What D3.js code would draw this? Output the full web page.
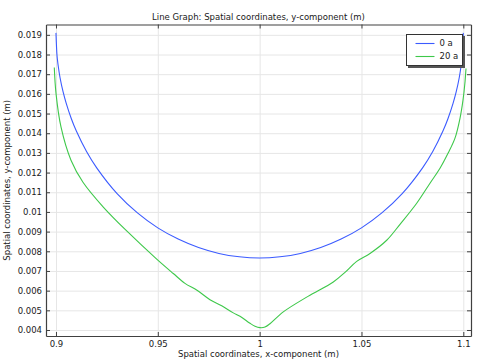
<!DOCTYPE html>
<html><head><meta charset="utf-8">
<script src="https://cdn.jsdelivr.net/npm/d3@7"></script>
<style>
html,body{margin:0;padding:0;background:#fff;}
svg{display:block;font-family:"DejaVu Sans",sans-serif;}
</style></head>
<body>
<svg id="chart" width="480" height="364"></svg>
<script>
const xTicks = [0.9, 0.95, 1, 1.05, 1.1];
const xTickLabels = ["0.9", "0.95", "1", "1.05", "1.1"];
const yTicks = [0.004,0.005,0.006,0.007,0.008,0.009,0.01,0.011,0.012,0.013,0.014,0.015,0.016,0.017,0.018,0.019];
const yTickLabels = ["0.004","0.005","0.006","0.007","0.008","0.009","0.01","0.011","0.012","0.013","0.014","0.015","0.016","0.017","0.018","0.019"];
const seriesNames = ["0 a", "20 a"];

// 0 a (blue)
const x0a = [0.9, 0.9005, 0.901, 0.902, 0.9035, 0.905, 0.9075, 0.91, 0.915, 0.92, 0.93, 0.94, 0.95, 0.96, 0.97, 0.98, 0.99, 1.0,
             1.01, 1.02, 1.03, 1.04, 1.05, 1.06, 1.07, 1.08, 1.085, 1.09, 1.0925, 1.095, 1.0965, 1.098, 1.099, 1.0995, 1.1];
const y0a = [0.0191, 0.01796, 0.01749, 0.01682, 0.0161, 0.01553, 0.01475, 0.01411, 0.01307, 0.01224, 0.01093, 0.00995, 0.00919, 0.00862, 0.00819, 0.00789, 0.00772, 0.00766,
             0.00772, 0.00789, 0.00819, 0.00862, 0.00919, 0.00995, 0.01093, 0.01224, 0.01307, 0.01411, 0.01475, 0.01553, 0.0161, 0.01682, 0.01749, 0.01796, 0.0191];

// 20 a (green)
const x20a = [0.89917, 0.9, 0.90246, 0.90737, 0.91326, 0.92323, 0.93486, 0.9496, 0.9576, 0.96334, 0.96924,
              0.97562, 0.98137, 0.98706, 0.99035, 0.99526, 0.99772, 1.00017, 1.00263, 1.00508, 1.01161, 1.02374, 1.03617, 1.04191, 1.04766, 1.05419,
              1.06239, 1.06892, 1.07712, 1.08365, 1.08856, 1.09249, 1.09592, 1.09838, 1.09985, 1.10084, 1.10133];
const y20a = [0.01734, 0.01604, 0.01432, 0.01263, 0.01151, 0.01025, 0.00902, 0.00759, 0.00687, 0.00637, 0.00602,
              0.00554, 0.00523, 0.00487, 0.0047, 0.00434, 0.00419, 0.00412, 0.00415, 0.00432, 0.00492, 0.00571, 0.00644, 0.00693, 0.00749, 0.00789,
              0.00856, 0.00937, 0.01044, 0.01146, 0.01222, 0.01298, 0.01375, 0.01476, 0.01568, 0.0166, 0.01729];

const colors = ["#3b5bff", "#3ec84a"];

const svg = d3.select("#chart");
const m = {left: 46, right: 9, top: 24.5, bottom: 28};
const W = 480 - m.left - m.right, H = 364 - m.top - m.bottom;
const g = svg.append("g").attr("transform", `translate(${m.left},${m.top})`);

const x = d3.scaleLinear().domain([0.89510, 1.10378]).range([0, W]);
const y = d3.scaleLinear().domain([0.003695, 0.019525]).range([H, 0]);

// grid
g.append("g").attr("class","grid").attr("transform",`translate(0,${H})`)
  .call(d3.axisBottom(x).tickValues(xTicks).tickSize(-H).tickFormat(""))
  .call(s=>s.select(".domain").remove())
  .call(s=>s.selectAll("line").attr("stroke","#e6e6e6"));
g.append("g").attr("class","grid")
  .call(d3.axisLeft(y).tickValues(yTicks).tickSize(-W).tickFormat(""))
  .call(s=>s.select(".domain").remove())
  .call(s=>s.selectAll("line").attr("stroke","#e6e6e6"));

// lines
const data = [d3.zip(x0a, y0a), d3.zip(x20a, y20a)];
const lineBasic = d3.line().x(d=>x(d[0])).y(d=>y(d[1])).curve(d3.curveCatmullRom.alpha(0.5));
data.forEach((d,i)=>{
  g.append("path").datum(d).attr("fill","none").attr("stroke",colors[i]).attr("stroke-width",1.1).attr("d",lineBasic);
});

// axes
const fmtX = d => xTickLabels[xTicks.indexOf(d)];
const fmtY = d => yTickLabels[yTicks.indexOf(d)];
const styleAxis = s => {
  s.select(".domain").attr("stroke","#404040").attr("stroke-width",1.2);
  s.selectAll(".tick line").attr("stroke","#404040");
  s.selectAll("text").attr("fill","#1a1a1a").attr("font-size","8.5px").attr("font-family","DejaVu Sans");
};
g.append("g").attr("transform",`translate(0,${H})`)
  .call(d3.axisBottom(x).tickValues(xTicks).tickFormat(fmtX).tickSizeInner(-4).tickSizeOuter(0).tickPadding(5)).call(styleAxis);
g.append("g")
  .call(d3.axisLeft(y).tickValues(yTicks).tickFormat(fmtY).tickSizeInner(-4).tickSizeOuter(0).tickPadding(4)).call(styleAxis);
g.append("g")
  .call(d3.axisTop(x).tickValues(xTicks).tickFormat("").tickSizeInner(-4).tickSizeOuter(0)).call(styleAxis);
g.append("g").attr("transform",`translate(${W},0)`)
  .call(d3.axisRight(y).tickValues(yTicks).tickFormat("").tickSizeInner(-4).tickSizeOuter(0)).call(styleAxis);

// titles
svg.append("text").attr("x", m.left + W/2).attr("y", 19.5).attr("text-anchor","middle")
  .attr("font-size","8.5px").attr("fill","#1a1a1a").text("Line Graph: Spatial coordinates, y-component (m)");
svg.append("text").attr("x", m.left + W/2).attr("y", 356.5).attr("text-anchor","middle")
  .attr("font-size","8.5px").attr("fill","#1a1a1a").text("Spatial coordinates, x-component (m)");
svg.append("text").attr("transform",`translate(9.5,${m.top + H/2}) rotate(-90)`).attr("text-anchor","middle")
  .attr("font-size","8.5px").attr("fill","#1a1a1a").text("Spatial coordinates, y-component (m)");

// legend
const lg = svg.append("g").attr("transform","translate(406.5,34.5)");
lg.append("rect").attr("x",1.5).attr("y",1.5).attr("width",57).attr("height",32).attr("fill","#555");
lg.append("rect").attr("x",0).attr("y",0).attr("width",56).attr("height",31).attr("fill","#fff").attr("stroke","#333").attr("stroke-width",1);
seriesNames.forEach((n,i)=>{
  const yy = 9 + i*13;
  lg.append("line").attr("x1",9).attr("x2",28).attr("y1",yy).attr("y2",yy).attr("stroke",colors[i]).attr("stroke-width",1.1);
  lg.append("text").attr("x",33).attr("y",yy).attr("dy","0.35em").attr("font-size","8.5px").attr("fill","#1a1a1a").text(n);
});
</script>
</body></html>
